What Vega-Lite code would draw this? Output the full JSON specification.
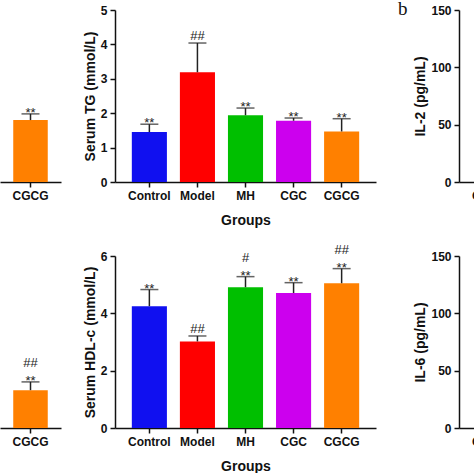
{
  "$schema": "https://vega.github.io/schema/vega-lite/v6.json",
  "padding": 0,
  "background": "white",
  "columns": 3,
  "align": "each",
  "spacing": {"row": 16, "column": 22},
  "datasets": {
    "tg": [
      {"Group": "Control", "value": 1.45, "upper": 1.68, "star": "**", "hash": ""},
      {"Group": "Model", "value": 3.19, "upper": 4.04, "star": "", "hash": "##"},
      {"Group": "MH", "value": 1.94, "upper": 2.15, "star": "**", "hash": ""},
      {"Group": "CGC", "value": 1.78, "upper": 1.86, "star": "**", "hash": ""},
      {"Group": "CGCG", "value": 1.47, "upper": 1.84, "star": "**", "hash": ""}
    ],
    "hdl": [
      {"Group": "Control", "value": 4.25, "upper": 4.83, "star": "**", "hash": ""},
      {"Group": "Model", "value": 3.02, "upper": 3.21, "star": "", "hash": "##"},
      {"Group": "MH", "value": 4.91, "upper": 5.28, "star": "**", "hash": "#"},
      {"Group": "CGC", "value": 4.71, "upper": 5.07, "star": "**", "hash": ""},
      {"Group": "CGCG", "value": 5.05, "upper": 5.56, "star": "**", "hash": "##"}
    ],
    "leftTop": [
      {"Group": "CGCG", "value": 1.80, "upper": 1.98, "star": "**", "hash": ""}
    ],
    "leftBot": [
      {"Group": "CGCG", "value": 1.10, "upper": 1.34, "star": "**", "hash": "##"}
    ],
    "groups": [
      {"Group": "Control"}, {"Group": "Model"}, {"Group": "MH"}, {"Group": "CGC"}, {"Group": "CGCG"}
    ]
  },
  "concat": [
    {
      "width": 61, "height": 172,
      "data": {"name": "leftTop"},
      "encoding": {
        "x": {"field": "Group", "type": "nominal", "sort": null,
              "scale": {"paddingInner": 0.27, "paddingOuter": 0.28},
              "axis": {"title": null, "labelAngle": 0}}
      },
      "layer": [
        {"mark": {"type": "bar"},
         "encoding": {
           "y": {"field": "value", "type": "quantitative", "scale": {"domain": [0, 5]}, "axis": null},
           "color": {"field": "Group", "type": "nominal", "legend": null,
                     "scale": {"domain": ["Control", "Model", "MH", "CGC", "CGCG"], "range": ["#1010f0", "#ff0000", "#00bf00", "#cc00ee", "#ff8000"]}}
         }},
        {"mark": {"type": "rule", "color": "#222222", "strokeWidth": 1.5},
         "encoding": {"y": {"field": "value", "type": "quantitative", "axis": null}, "y2": {"field": "upper"}}},
        {"mark": {"type": "tick", "color": "#222222", "thickness": 1.5, "size": 18},
         "encoding": {"y": {"field": "upper", "type": "quantitative", "axis": null}}},
        {"mark": {"type": "text", "font": "Liberation Sans", "fontSize": 13, "color": "#222222", "baseline": "alphabetic", "dy": 3},
         "encoding": {"y": {"field": "upper", "type": "quantitative", "axis": null}, "text": {"field": "star"}}},
        {"transform": [{"filter": "datum.hash != '' && datum.star != ''"}],
         "mark": {"type": "text", "font": "Liberation Sans", "fontSize": 13, "color": "#222222", "baseline": "alphabetic", "dy": -15},
         "encoding": {"y": {"field": "upper", "type": "quantitative", "axis": null}, "text": {"field": "hash"}}}
      ]
    },
    {
      "width": 261, "height": 172,
      "data": {"name": "tg"},
      "encoding": {
        "x": {"field": "Group", "type": "nominal", "sort": null,
              "scale": {"paddingInner": 0.27, "paddingOuter": 0.35},
              "axis": {"title": "Groups", "labelAngle": 0, "titlePadding": 12}}
      },
      "layer": [
        {"mark": {"type": "bar"},
         "encoding": {
           "y": {"field": "value", "type": "quantitative", "scale": {"domain": [0, 5]},
                 "axis": {"title": "Serum TG (mmol/L)", "values": [0, 1, 2, 3, 4, 5], "titlePadding": 3}},
           "color": {"field": "Group", "type": "nominal", "legend": null,
                     "scale": {"domain": ["Control", "Model", "MH", "CGC", "CGCG"], "range": ["#1010f0", "#ff0000", "#00bf00", "#cc00ee", "#ff8000"]}}
         }},
        {"mark": {"type": "rule", "color": "#222222", "strokeWidth": 1.5},
         "encoding": {"y": {"field": "value", "type": "quantitative", "axis": {"title": "Serum TG (mmol/L)", "values": [0, 1, 2, 3, 4, 5], "titlePadding": 3}}, "y2": {"field": "upper"}}},
        {"mark": {"type": "tick", "color": "#222222", "thickness": 1.5, "size": 18},
         "encoding": {"y": {"field": "upper", "type": "quantitative", "axis": {"title": "Serum TG (mmol/L)", "values": [0, 1, 2, 3, 4, 5], "titlePadding": 3}}}},
        {"mark": {"type": "text", "font": "Liberation Sans", "fontSize": 13, "color": "#222222", "baseline": "alphabetic", "dy": 3},
         "encoding": {"y": {"field": "upper", "type": "quantitative", "axis": {"title": "Serum TG (mmol/L)", "values": [0, 1, 2, 3, 4, 5], "titlePadding": 3}}, "text": {"field": "star"}}},
        {"transform": [{"filter": "datum.hash != '' && datum.star == ''"}],
         "mark": {"type": "text", "font": "Liberation Sans", "fontSize": 13, "color": "#222222", "baseline": "alphabetic", "dy": -3},
         "encoding": {"y": {"field": "upper", "type": "quantitative", "axis": {"title": "Serum TG (mmol/L)", "values": [0, 1, 2, 3, 4, 5], "titlePadding": 3}}, "text": {"field": "hash"}}}
      ]
    },
    {
      "width": 261, "height": 172,
      "title": {"text": "b", "anchor": "start", "frame": "group", "font": "Liberation Serif", "fontSize": 19, "fontWeight": "normal", "color": "#111111", "baseline": "alphabetic", "offset": 0, "dx": -61, "dy": 30},
      "data": {"name": "groups"},
      "mark": {"type": "tick", "opacity": 0},
      "encoding": {
        "x": {"field": "Group", "type": "nominal", "sort": null,
              "scale": {"paddingInner": 0.27, "paddingOuter": 0.35},
              "axis": {"title": null, "labelAngle": 0}},
        "y": {"datum": 0, "type": "quantitative", "scale": {"domain": [0, 150]},
              "axis": {"title": "IL-2 (pg/mL)", "values": [0, 50, 100, 150], "titlePadding": 3}}
      }
    },
    {
      "width": 61, "height": 172,
      "data": {"name": "leftBot"},
      "encoding": {
        "x": {"field": "Group", "type": "nominal", "sort": null,
              "scale": {"paddingInner": 0.27, "paddingOuter": 0.28},
              "axis": {"title": null, "labelAngle": 0}}
      },
      "layer": [
        {"mark": {"type": "bar"},
         "encoding": {
           "y": {"field": "value", "type": "quantitative", "scale": {"domain": [0, 5]}, "axis": null},
           "color": {"field": "Group", "type": "nominal", "legend": null,
                     "scale": {"domain": ["Control", "Model", "MH", "CGC", "CGCG"], "range": ["#1010f0", "#ff0000", "#00bf00", "#cc00ee", "#ff8000"]}}
         }},
        {"mark": {"type": "rule", "color": "#222222", "strokeWidth": 1.5},
         "encoding": {"y": {"field": "value", "type": "quantitative", "axis": null}, "y2": {"field": "upper"}}},
        {"mark": {"type": "tick", "color": "#222222", "thickness": 1.5, "size": 18},
         "encoding": {"y": {"field": "upper", "type": "quantitative", "axis": null}}},
        {"mark": {"type": "text", "font": "Liberation Sans", "fontSize": 13, "color": "#222222", "baseline": "alphabetic", "dy": 3},
         "encoding": {"y": {"field": "upper", "type": "quantitative", "axis": null}, "text": {"field": "star"}}},
        {"transform": [{"filter": "datum.hash != '' && datum.star != ''"}],
         "mark": {"type": "text", "font": "Liberation Sans", "fontSize": 13, "color": "#222222", "baseline": "alphabetic", "dy": -15},
         "encoding": {"y": {"field": "upper", "type": "quantitative", "axis": null}, "text": {"field": "hash"}}}
      ]
    },
    {
      "width": 261, "height": 172,
      "data": {"name": "hdl"},
      "encoding": {
        "x": {"field": "Group", "type": "nominal", "sort": null,
              "scale": {"paddingInner": 0.27, "paddingOuter": 0.35},
              "axis": {"title": "Groups", "labelAngle": 0, "titlePadding": 12}}
      },
      "layer": [
        {"mark": {"type": "bar"},
         "encoding": {
           "y": {"field": "value", "type": "quantitative", "scale": {"domain": [0, 6]},
                 "axis": {"title": "Serum HDL-c (mmol/L)", "values": [0, 2, 4, 6], "titlePadding": 3}},
           "color": {"field": "Group", "type": "nominal", "legend": null,
                     "scale": {"domain": ["Control", "Model", "MH", "CGC", "CGCG"], "range": ["#1010f0", "#ff0000", "#00bf00", "#cc00ee", "#ff8000"]}}
         }},
        {"mark": {"type": "rule", "color": "#222222", "strokeWidth": 1.5},
         "encoding": {"y": {"field": "value", "type": "quantitative", "axis": {"title": "Serum HDL-c (mmol/L)", "values": [0, 2, 4, 6], "titlePadding": 3}}, "y2": {"field": "upper"}}},
        {"mark": {"type": "tick", "color": "#222222", "thickness": 1.5, "size": 18},
         "encoding": {"y": {"field": "upper", "type": "quantitative", "axis": {"title": "Serum HDL-c (mmol/L)", "values": [0, 2, 4, 6], "titlePadding": 3}}}},
        {"mark": {"type": "text", "font": "Liberation Sans", "fontSize": 13, "color": "#222222", "baseline": "alphabetic", "dy": 3},
         "encoding": {"y": {"field": "upper", "type": "quantitative", "axis": {"title": "Serum HDL-c (mmol/L)", "values": [0, 2, 4, 6], "titlePadding": 3}}, "text": {"field": "star"}}},
        {"transform": [{"filter": "datum.hash != '' && datum.star == ''"}],
         "mark": {"type": "text", "font": "Liberation Sans", "fontSize": 13, "color": "#222222", "baseline": "alphabetic", "dy": -3},
         "encoding": {"y": {"field": "upper", "type": "quantitative", "axis": {"title": "Serum HDL-c (mmol/L)", "values": [0, 2, 4, 6], "titlePadding": 3}}, "text": {"field": "hash"}}},
        {"transform": [{"filter": "datum.hash != '' && datum.star != ''"}],
         "mark": {"type": "text", "font": "Liberation Sans", "fontSize": 13, "color": "#222222", "baseline": "alphabetic", "dy": -15},
         "encoding": {"y": {"field": "upper", "type": "quantitative", "axis": {"title": "Serum HDL-c (mmol/L)", "values": [0, 2, 4, 6], "titlePadding": 3}}, "text": {"field": "hash"}}}
      ]
    },
    {
      "width": 261, "height": 172,
      "data": {"name": "groups"},
      "mark": {"type": "tick", "opacity": 0},
      "encoding": {
        "x": {"field": "Group", "type": "nominal", "sort": null,
              "scale": {"paddingInner": 0.27, "paddingOuter": 0.35},
              "axis": {"title": null, "labelAngle": 0}},
        "y": {"datum": 0, "type": "quantitative", "scale": {"domain": [0, 150]},
              "axis": {"title": "IL-6 (pg/mL)", "values": [0, 50, 100, 150], "titlePadding": 3}}
      }
    }
  ],
  "config": {
    "view": {"stroke": null},
    "axis": {
      "grid": false,
      "domainColor": "#111111", "domainWidth": 1.5,
      "tickColor": "#111111", "tickWidth": 1.5, "tickSize": 5,
      "labelFont": "Liberation Sans", "labelFontWeight": "bold", "labelFontSize": 12, "labelColor": "#111111", "labelPadding": 3,
      "titleFont": "Liberation Sans", "titleFontWeight": "bold", "titleFontSize": 14, "titleColor": "#111111"
    }
  }
}
